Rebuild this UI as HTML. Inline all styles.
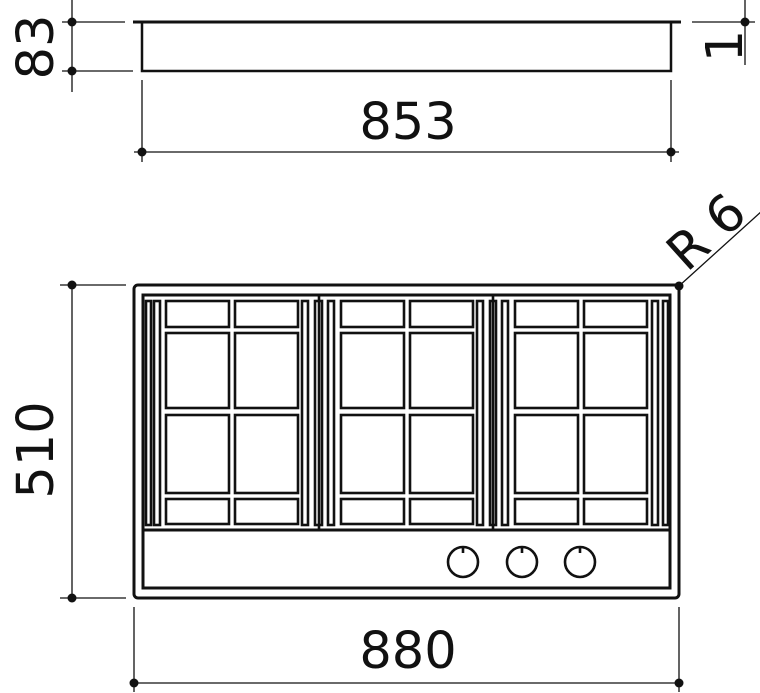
<!DOCTYPE html>
<html><head><style>html,body{margin:0;padding:0;background:#fff}svg{display:block}</style></head>
<body>
<svg width="760" height="693" viewBox="0 0 760 693" xmlns="http://www.w3.org/2000/svg" font-family="'DejaVu Sans','Liberation Sans',sans-serif">
<g stroke="#111" fill="none">
<line x1="133" y1="22" x2="681" y2="22" stroke-width="3"/>
<rect x="142" y="22" width="529" height="49" stroke-width="2.5"/>
<line x1="72" y1="0" x2="72" y2="92" stroke-width="1.3"/>
<line x1="62" y1="22" x2="125" y2="22" stroke-width="1.3"/>
<line x1="62" y1="71" x2="133" y2="71" stroke-width="1.3"/>
<line x1="745" y1="0" x2="745" y2="65" stroke-width="1.3"/>
<line x1="692" y1="22" x2="755" y2="22" stroke-width="1.3"/>
<line x1="142" y1="80" x2="142" y2="162" stroke-width="1.3"/>
<line x1="671" y1="80" x2="671" y2="162" stroke-width="1.3"/>
<line x1="134" y1="152" x2="679" y2="152" stroke-width="1.3"/>
<rect x="134" y="285" width="545" height="313" rx="4" stroke-width="3"/>
<rect x="143" y="295" width="527" height="293" stroke-width="3"/>
<line x1="143" y1="530" x2="670" y2="530" stroke-width="3"/>
<line x1="60" y1="285" x2="126" y2="285" stroke-width="1.3"/>
<line x1="60" y1="598" x2="126" y2="598" stroke-width="1.3"/>
<line x1="72" y1="285" x2="72" y2="598" stroke-width="1.3"/>
<line x1="134" y1="607" x2="134" y2="692" stroke-width="1.3"/>
<line x1="679" y1="607" x2="679" y2="692" stroke-width="1.3"/>
<line x1="134" y1="683" x2="679" y2="683" stroke-width="1.3"/>
<line x1="679" y1="286" x2="762" y2="211" stroke-width="1.3"/>
<g stroke-width="2.6">
<rect x="146" y="301" width="5" height="224"/>
<rect x="154" y="301" width="6" height="224"/>
<rect x="302" y="301" width="6" height="224"/>
<rect x="315" y="301" width="7" height="224"/>
<rect x="328" y="301" width="6" height="224"/>
<rect x="477" y="301" width="6" height="224"/>
<rect x="490" y="301" width="6" height="224"/>
<rect x="502" y="301" width="6" height="224"/>
<rect x="652" y="301" width="6" height="224"/>
<rect x="663" y="301" width="5" height="224"/>
<line x1="319" y1="295" x2="319" y2="530"/>
<line x1="493" y1="295" x2="493" y2="530"/>
<g id="c">
<rect x="166" y="301" width="63" height="26"/><rect x="235" y="301" width="63" height="26"/>
<rect x="166" y="333" width="63" height="75"/><rect x="235" y="333" width="63" height="75"/>
<rect x="166" y="415" width="63" height="78"/><rect x="235" y="415" width="63" height="78"/>
<rect x="166" y="499" width="63" height="25"/><rect x="235" y="499" width="63" height="25"/>
</g>
<use href="#c" x="175"/>
<use href="#c" x="349"/>
<circle cx="463" cy="562" r="15"/><line x1="463" y1="547" x2="463" y2="553"/>
<circle cx="522" cy="562" r="15"/><line x1="522" y1="547" x2="522" y2="553"/>
<circle cx="580" cy="562" r="15"/><line x1="580" y1="547" x2="580" y2="553"/>
</g>
</g>
<g fill="#111">
<circle cx="72" cy="22" r="4.5"/><circle cx="72" cy="71" r="4.5"/>
<circle cx="745" cy="22" r="4.5"/>
<circle cx="142" cy="152" r="4.5"/><circle cx="671" cy="152" r="4.5"/>
<circle cx="72" cy="285" r="4.5"/><circle cx="72" cy="598" r="4.5"/>
<circle cx="134" cy="683" r="4.5"/><circle cx="679" cy="683" r="4.5"/>
<circle cx="679" cy="286" r="4.5"/>
</g>
<g fill="#111" font-size="51" text-anchor="middle">
<text x="408" y="139">853</text>
<text x="408" y="668">880</text>
<text transform="translate(53,450) rotate(-90)">510</text>
<text transform="translate(53,47) rotate(-90)">83</text>
<text transform="translate(742,46) rotate(-90)">1</text>
<text transform="translate(718,245) rotate(-42)">R 6</text>
</g>
</svg>
</body></html>
